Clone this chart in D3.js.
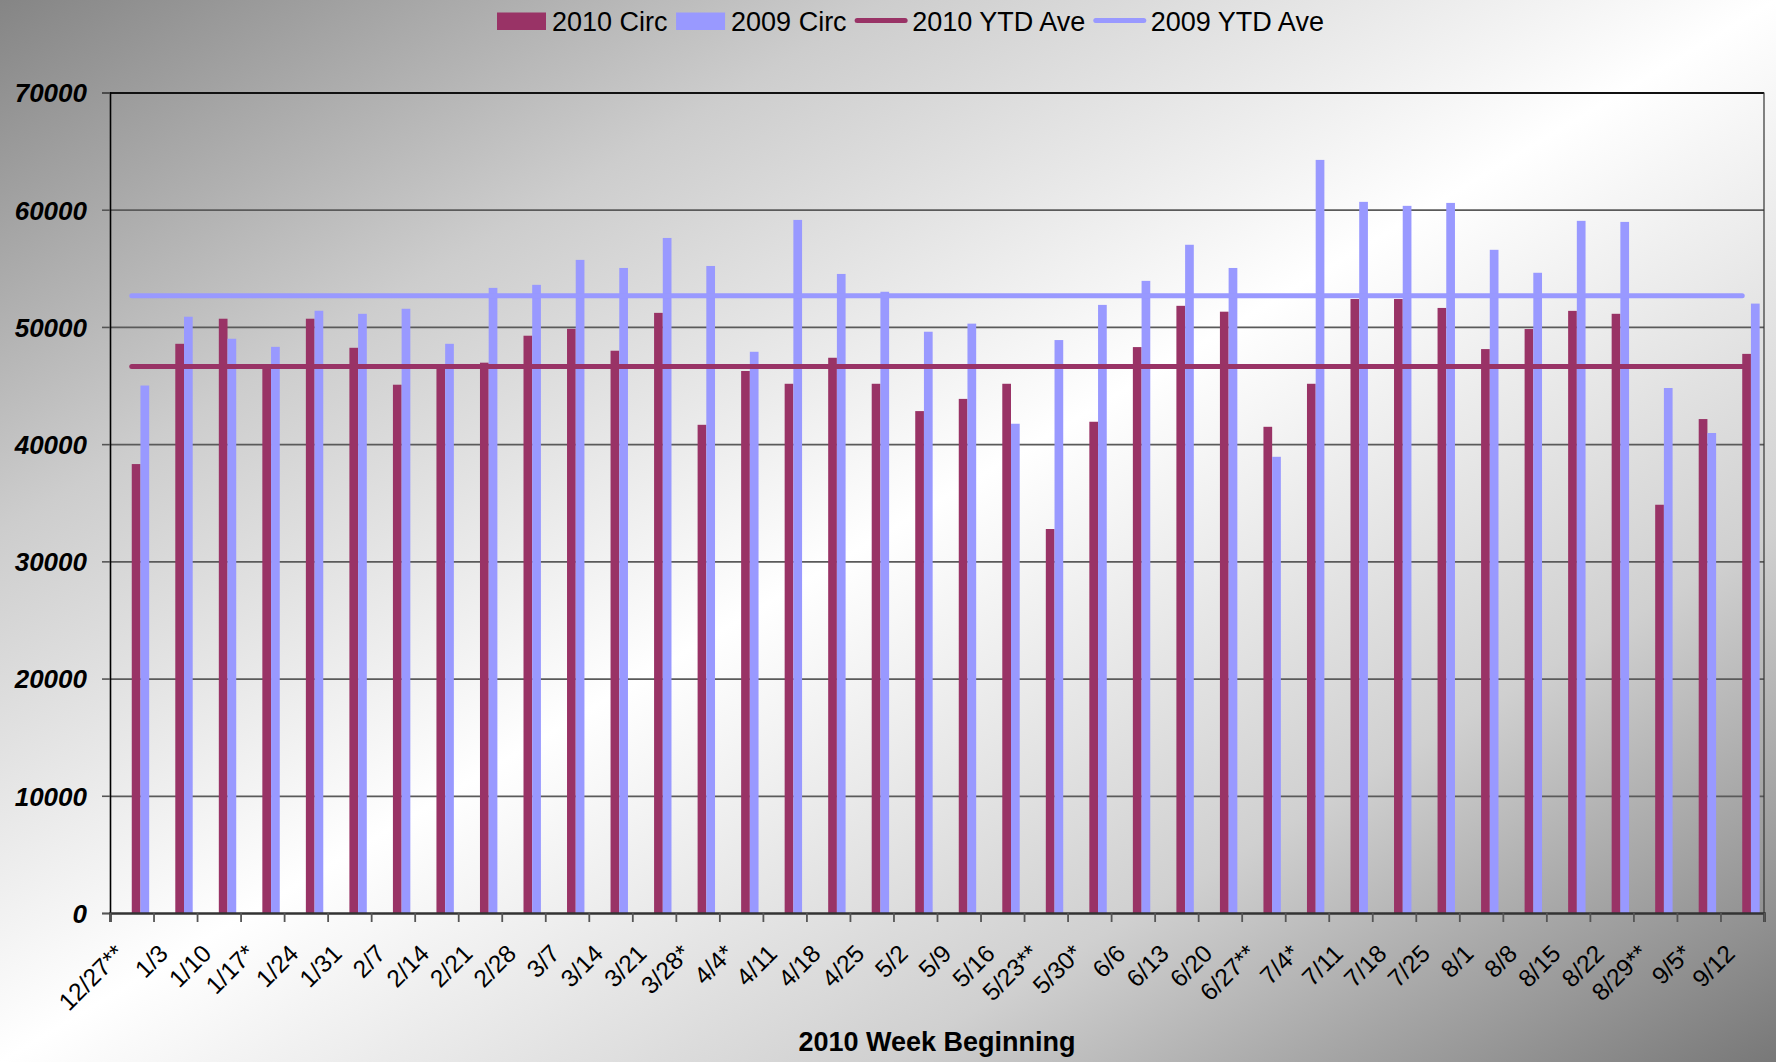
<!DOCTYPE html>
<html>
<head>
<meta charset="utf-8">
<script src="https://cdn.jsdelivr.net/npm/d3@7"></script>
<style>
  body { margin: 0; overflow: hidden; background: #fff; }
  text { font-family: "Liberation Sans", Arial, sans-serif; fill: #000; }
</style>
</head>
<body>
<div class="chart"></div>
<script>
// week labels (category axis)
const weeks = ["12/27**", "1/3", "1/10", "1/17*", "1/24", "1/31", "2/7", "2/14", "2/21", "2/28",
    "3/7", "3/14", "3/21", "3/28*", "4/4*", "4/11", "4/18", "4/25", "5/2", "5/9",
    "5/16", "5/23**", "5/30*", "6/6", "6/13", "6/20", "6/27**", "7/4*", "7/11", "7/18",
    "7/25", "8/1", "8/8", "8/15", "8/22", "8/29**", "9/5*", "9/12"];

const circ2010 = [38300, 48560, 50700, 46700, 50700, 48220, 45070, 46650, 46950, 49250,
    49840, 47970, 51200, 41650, 46240, 45150, 47370, 45150, 42820, 43860,
    45150, 32760, 41910, 48280, 51800, 51300, 41480, 45150, 52380, 52380,
    51620, 48110, 49820, 51370, 51120, 34830, 42140, 47700];

const circ2009 = [45000, 50870, 48990, 48300, 51380, 51120, 51550, 48560, 53330, 53590,
    55720, 55030, 57590, 55200, 47880, 59130, 54520, 53000, 49590, 50280,
    41740, 48880, 51880, 53930, 57010, 55030, 38920, 64250, 60670, 60330,
    60580, 56580, 54620, 59050, 58960, 44790, 40950, 51990];

const ytdAve2010 = 46630;
const ytdAve2009 = 52650;

const yTicks = [0, 10000, 20000, 30000, 40000, 50000, 60000, 70000];
const seriesNames = ["2010 Circ", "2009 Circ", "2010 YTD Ave", "2009 YTD Ave"];
const colors = { "2010": "#993366", "2009": "#9999ff" };

const width = 1776,
    height = 1062,
    plot = { left: 110, right: 1764, top: 92.5, bottom: 913 };

const svg = d3.select(".chart").append("svg")
    .attr("width", width)
    .attr("height", height);

// diagonal grey-white-grey background
const grad = svg.append("defs").append("linearGradient")
    .attr("id", "bg")
    .attr("x1", 0).attr("y1", 0).attr("x2", 1).attr("y2", 1);
grad.selectAll("stop")
    .data([[0, "#858585"], [0.25, "#cdcdcd"], [0.5, "#ffffff"], [0.75, "#d0d0d0"], [1, "#787878"]])
    .enter().append("stop")
    .attr("offset", d => d[0])
    .attr("stop-color", d => d[1]);

svg.append("rect")
    .attr("width", width)
    .attr("height", height)
    .attr("fill", "url(#bg)");

const xScale = d3.scaleBand()
    .domain(weeks)
    .range([plot.left, plot.right]);
const bw = xScale.bandwidth();

// four slots per week, the two average series take no bar room
const slot = d3.scaleBand()
    .domain(["2010 YTD Ave", "2009 YTD Ave", "2010 Circ", "2009 Circ"])
    .range([0.1 * bw, 0.9 * bw]);

const yScale = d3.scaleLinear()
    .domain([0, 70000])
    .range([plot.bottom, plot.top]);

// horizontal grid
svg.append("g")
    .attr("transform", "translate(" + plot.left + ",0)")
    .call(d3.axisLeft(yScale).tickValues(yTicks.slice(1)).tickSize(-(plot.right - plot.left)).tickFormat(""))
    .call(g => g.select(".domain").remove())
    .call(g => g.selectAll("line")
        .attr("stroke", d => d === 70000 ? "#111" : "#5a5a5a")
        .attr("stroke-width", d => d === 70000 ? 2.2 : 1.7));

// right border of plot
svg.append("line")
    .attr("x1", plot.right).attr("x2", plot.right)
    .attr("y1", plot.top).attr("y2", plot.bottom)
    .attr("stroke", "#333").attr("stroke-width", 1.2);

// y axis
svg.append("g")
    .attr("transform", "translate(" + plot.left + ",0)")
    .call(d3.axisLeft(yScale).tickValues(yTicks).tickSize(8).tickPadding(15).tickFormat(d3.format("d")))
    .call(g => g.select(".domain").attr("stroke", "#000").attr("stroke-width", 1.6))
    .call(g => g.selectAll(".tick line").attr("stroke", "#555").attr("stroke-width", 1.6))
    .call(g => g.selectAll("text")
        .attr("dy", "0.36em")
        .style("font-size", "26px")
        .style("font-weight", "bold")
        .style("font-style", "italic")
        .style("font-family", "'Liberation Sans', Arial, sans-serif")
        .attr("fill", "#000"));

// bars
const bars = svg.append("g");
bars.selectAll(".b2010").data(circ2010).enter()
    .append("rect")
    .attr("x", (d, i) => xScale(weeks[i]) + slot("2010 Circ"))
    .attr("width", slot.bandwidth())
    .attr("y", d => yScale(d))
    .attr("height", d => yScale(0) - yScale(d))
    .attr("fill", colors["2010"]);
bars.selectAll(".b2009").data(circ2009).enter()
    .append("rect")
    .attr("x", (d, i) => xScale(weeks[i]) + slot("2009 Circ"))
    .attr("width", slot.bandwidth())
    .attr("y", d => yScale(d))
    .attr("height", d => yScale(0) - yScale(d))
    .attr("fill", colors["2009"]);

// YTD average lines through the category centres
const aveLine = v => d3.line()
    .x(w => xScale(w) + bw / 2)
    .y(() => yScale(v))(weeks);

svg.append("path")
    .attr("d", aveLine(ytdAve2009))
    .attr("fill", "none")
    .attr("stroke", colors["2009"])
    .attr("stroke-width", 5)
    .attr("stroke-linecap", "round");
svg.append("path")
    .attr("d", aveLine(ytdAve2010))
    .attr("fill", "none")
    .attr("stroke", colors["2010"])
    .attr("stroke-width", 5)
    .attr("stroke-linecap", "round");

// x axis: boundary ticks
const edge = d3.scaleLinear().domain([0, weeks.length]).range([plot.left, plot.right]);
svg.append("g")
    .attr("transform", "translate(0," + plot.bottom + ")")
    .call(d3.axisBottom(edge).tickValues(d3.range(weeks.length + 1)).tickSize(9).tickFormat(""))
    .call(g => g.select(".domain").attr("stroke", "#333").attr("stroke-width", 2.6))
    .call(g => g.selectAll(".tick line").attr("stroke", "#555").attr("stroke-width", 1.8));

// x axis: rotated week labels
svg.append("g")
    .attr("transform", "translate(0," + plot.bottom + ")")
    .call(d3.axisBottom(xScale).tickSize(0))
    .call(g => g.select(".domain").remove())
    .call(g => g.selectAll("text")
        .attr("x", 0).attr("y", 0)
        .attr("dy", "0.35em")
        .attr("text-anchor", "end")
        .attr("transform", "translate(-12,36) rotate(-45)")
        .style("font-size", "24.5px")
        .style("font-family", "'Liberation Sans', Arial, sans-serif")
        .attr("fill", "#000"));

// axis title
svg.append("text")
    .attr("x", (plot.left + plot.right) / 2)
    .attr("y", 1051)
    .attr("text-anchor", "middle")
    .style("font-size", "27px")
    .style("font-weight", "bold")
    .text("2010 Week Beginning");

// legend
const legend = svg.append("g").attr("transform", "translate(497,0)");
let lx = 0;
seriesNames.forEach(function(name, i) {
    const c = colors[name.slice(0, 4)];
    if (i < 2) {
        legend.append("rect")
            .attr("x", lx).attr("y", 12.5)
            .attr("width", 49).attr("height", 17.5)
            .attr("fill", c);
        lx += 55;
    } else {
        legend.append("line")
            .attr("x1", lx + 2).attr("x2", lx + 50)
            .attr("y1", 20.5).attr("y2", 20.5)
            .attr("stroke", c).attr("stroke-width", 5)
            .attr("stroke-linecap", "round");
        lx += 57;
    }
    const t = legend.append("text")
        .attr("x", lx).attr("y", 30.5)
        .style("font-size", "27px")
        .text(name);
    lx += t.node().getComputedTextLength() + 8.5;
});
</script>
</body>
</html>
